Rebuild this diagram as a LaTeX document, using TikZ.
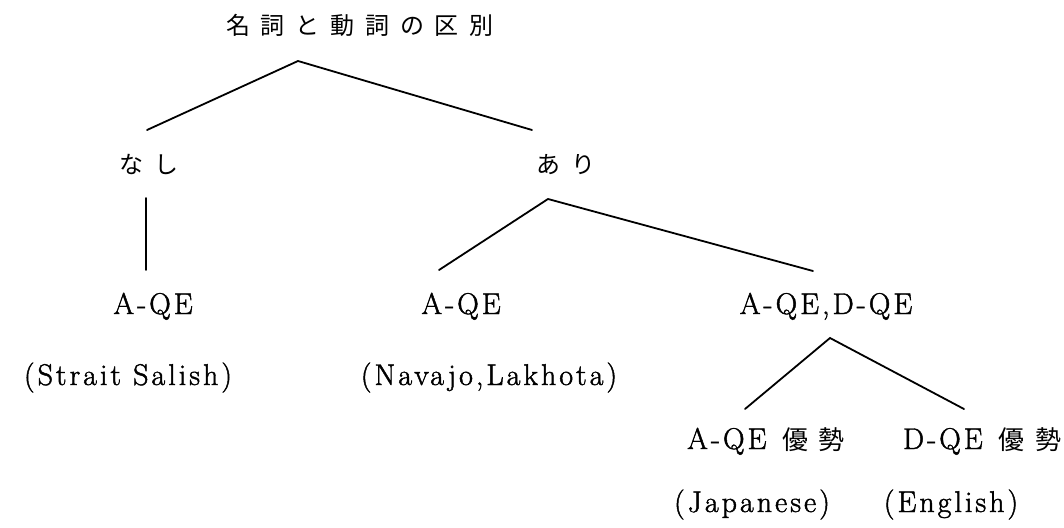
\documentclass[tikz,border=0pt]{standalone}
\usepackage{fontspec}
\setmainfont{Latin Modern Roman}[LetterSpace=10, FakeBold=1.5]
\newfontfamily\jp{Noto Sans CJK JP}[LetterSpace=45]
\newfontfamily\jpb{Noto Sans CJK JP}[LetterSpace=40]
\tikzset{
  lat/.style={inner sep=0pt, anchor=base, font=\fontsize{30}{32}\selectfont},
  jap/.style={inner sep=0pt, anchor=base, font=\fontsize{24}{26}\jp},
  edge/.style={line width=1.8pt, line cap=round}
}
\begin{document}
\begin{tikzpicture}[x=1pt, y=-1pt]
\useasboundingbox (0,0) rectangle (1064,527);
% labels
\node[jap] (root) at (360,35) {名詞と動詞の区別};
\node[jap] (nashi) at (149,173) {なし};
\node[jap] (ari) at (566,173) {あり};
\node[lat] (aqe1) at (153,314) {A-QE};
\node[lat] (aqe2) at (461,314) {A-QE};
\node[lat] (both) at (826,314) {A-QE,D-QE};
\node[lat] (sal) at (128,385) {(Strait Salish)};
\node[lat] (nav) at (489,385) {(Navajo,Lakhota)};
\node[lat] (adom) at (766,449) {A-QE\hspace{16pt}{\fontsize{26}{28}\jpb 優勢}};
\node[lat] (ddom) at (982,449) {D-QE\hspace{16pt}{\fontsize{26}{28}\jpb 優勢}};
\node[lat] (jpn) at (752,512) {(Japanese)};
\node[lat] (eng) at (951,512) {(English)};
% branch points and line ends
\coordinate (r0) at (298,61);
\coordinate (r1) at (147,130);
\coordinate (r2) at (532,130);
\coordinate (n0) at (146,198);
\coordinate (n1) at (146,270);
\coordinate (a0) at (548,199);
\coordinate (a1) at (439,270);
\coordinate (a2) at (813,271);
\coordinate (b0) at (830,338);
\coordinate (b1) at (745,409);
\coordinate (b2) at (964,409);
% connectors
\draw[edge] (r1) -- (r0) -- (r2);
\draw[edge] (n0) -- (n1);
\draw[edge] (a1) -- (a0) -- (a2);
\draw[edge] (b1) -- (b0) -- (b2);
\end{tikzpicture}
\end{document}
